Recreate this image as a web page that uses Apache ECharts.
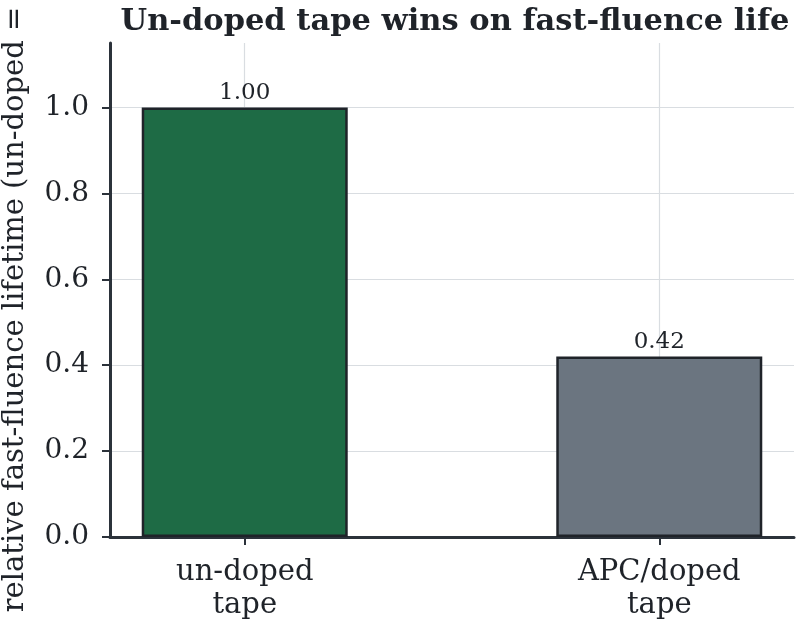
<!DOCTYPE html>
<html><head><meta charset="utf-8">
<script src="https://cdn.jsdelivr.net/npm/echarts@6/dist/echarts.min.js"></script>
<style>html,body{margin:0;padding:0;background:#fff}#c{width:797px;height:624px}</style>
</head><body><div id="c"></div>
<script>
const categories = ['un-doped\ntape', 'APC/doped\ntape'];
const values = [1.00, 0.42];
const colors = ['#1e6b45', '#6b7580'];
const yTicks = [0, 0.2, 0.4, 0.6, 0.8, 1.0];
const titleText = 'Un-doped tape wins on fast-fluence life';
const yName = 'relative fast-fluence lifetime (un-doped = 1)';

const font = 'DejaVu Serif';
const chart = echarts.init(document.getElementById('c'), null, {renderer: 'canvas'});
const idx = categories.map((_, i) => i);
chart.setOption({
  animation: false,
  title: {text: titleText, left: 450, top: 2, textAlign: 'center',
    textStyle: {fontFamily: font, fontWeight: 'bold', fontSize: 30.5, color: '#1f2329'}},
  grid: {left: 110, right: 3, top: 43, bottom: 87, containLabel: false, outerBoundsMode: 'none'},
  xAxis: {
    type: 'value', min: -0.325, max: 1.325,
    axisLine: {show: true, onZero: false, lineStyle: {color: '#2b323a', width: 3}},
    axisTick: {show: true, customValues: idx, length: 8, lineStyle: {color: '#2b323a', width: 2}},
    axisLabel: {show: true, customValues: idx, margin: 19, lineHeight: 33,
      fontFamily: font, fontSize: 29, color: '#1f2329',
      formatter: v => categories[Math.round(v)] || ''},
    splitLine: {show: true, lineStyle: {color: '#d9dde1', width: 1.2}}
  },
  yAxis: {
    type: 'value', min: 0, max: 1.15,
    name: yName, nameLocation: 'middle', nameGap: 80, nameRotate: 90,
    nameTextStyle: {fontFamily: font, fontSize: 29, color: '#1f2329'},
    axisLine: {show: true, onZero: false, lineStyle: {color: '#2b323a', width: 3}},
    axisTick: {show: true, customValues: yTicks, length: 8, lineStyle: {color: '#2b323a', width: 2}},
    axisLabel: {show: true, customValues: yTicks, margin: 21,
      fontFamily: font, fontSize: 28, color: '#1f2329',
      formatter: v => v.toFixed(1)},
    splitLine: {show: true, lineStyle: {color: '#d9dde1', width: 1.2}}
  },
  series: [
    {
      type: 'bar', barWidth: 206, z: 3,
      data: values.map((v, i) => ({value: [i, v], itemStyle: {color: colors[i]}})),
      itemStyle: {borderColor: '#1f2329', borderWidth: 2.5},
      label: {show: true, position: 'top', distance: 3, fontFamily: font, fontSize: 23, color: '#1f2329',
        formatter: p => p.value[1].toFixed(2)}
    }
  ]
});
</script></body></html>
